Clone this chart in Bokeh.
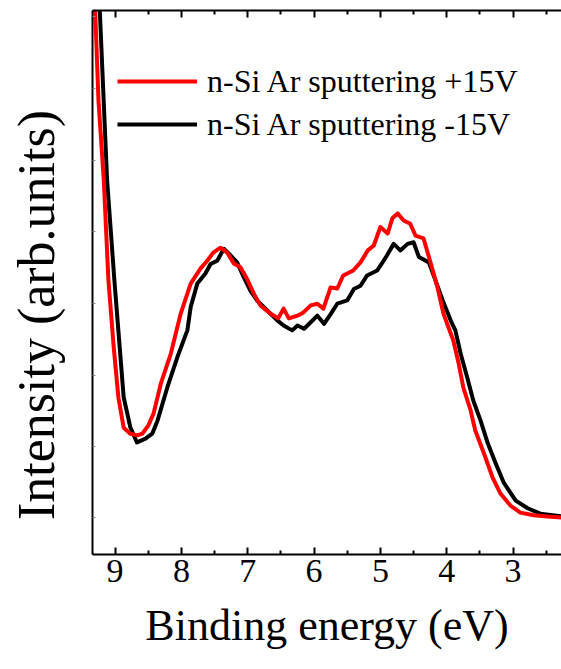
from bokeh.plotting import figure
from bokeh.models import (Range1d, LinearAxis, FixedTicker, Legend, LegendItem,
                          CustomJSTickFormatter)
from bokeh.embed import file_html
from bokeh.resources import INLINE

# ---- data ----
red_energy = [9.33, 9.30, 9.25, 9.17, 9.10, 9.02, 8.95, 8.87, 8.77, 8.66, 8.59, 8.50, 8.42, 8.31,
              8.16, 8.01, 7.86, 7.71, 7.61, 7.52, 7.41, 7.31, 7.21, 7.11, 7.00, 6.91, 6.81, 6.66,
              6.54, 6.46, 6.38, 6.25, 6.16, 6.05, 5.95, 5.86, 5.75, 5.65, 5.56, 5.41, 5.30, 5.19,
              5.10, 5.00, 4.89, 4.82, 4.74, 4.65, 4.55, 4.47, 4.35, 4.24, 4.14, 4.05, 3.90, 3.82,
              3.75, 3.64, 3.57, 3.44, 3.31, 3.19, 3.04, 2.89, 2.69, 2.48, 2.27]
red_intensity = [107.0, 100.0, 83.5, 68.8, 50.4, 38.1, 28.9, 23.3, 22.2, 21.9, 22.2, 23.7, 25.9, 31.4,
                 36.9, 44.3, 49.8, 52.6, 54.0, 55.5, 56.4, 55.5, 53.5, 52.8, 50.4, 48.0, 45.8, 44.3,
                 43.4, 45.2, 43.4, 43.9, 44.5, 45.8, 46.1, 45.2, 49.1, 48.9, 51.3, 52.2, 53.7, 55.9,
                 56.8, 60.2, 59.0, 61.8, 62.7, 61.4, 60.8, 58.6, 58.1, 53.5, 49.1, 44.3, 39.3, 35.1,
                 30.7, 26.5, 22.8, 18.6, 14.2, 11.2, 9.0, 7.7, 7.2, 7.0, 6.8]

black_energy = [9.26, 9.23, 9.12, 9.01, 8.93, 8.87, 8.77, 8.67, 8.54, 8.44, 8.36, 8.21, 8.06, 7.91,
                7.86, 7.76, 7.64, 7.56, 7.46, 7.36, 7.26, 7.16, 7.06, 6.96, 6.86, 6.71, 6.55, 6.46,
                6.33, 6.25, 6.15, 6.05, 5.95, 5.85, 5.75, 5.65, 5.50, 5.40, 5.30, 5.20, 5.05, 4.95,
                4.90, 4.80, 4.70, 4.59, 4.50, 4.42, 4.27, 4.17, 4.06, 3.94, 3.87, 3.79, 3.69, 3.60,
                3.49, 3.38, 3.26, 3.14, 2.96, 2.78, 2.59, 2.27]
black_intensity = [107.0, 100.0, 68.8, 50.4, 38.1, 28.9, 23.4, 20.6, 21.3, 22.2, 24.6, 30.8, 36.3, 41.2,
                   45.5, 49.8, 51.6, 53.4, 54.0, 56.2, 55.0, 53.7, 51.0, 48.5, 46.7, 44.9, 43.0, 42.1,
                   41.2, 42.1, 41.5, 42.7, 43.9, 42.4, 44.2, 46.1, 46.7, 48.8, 49.4, 51.3, 52.2, 54.0,
                   55.0, 57.1, 55.9, 57.1, 57.4, 54.7, 53.7, 50.4, 46.7, 43.0, 41.2, 36.9, 32.5, 28.3,
                   24.6, 20.4, 16.7, 13.2, 9.9, 8.5, 7.5, 7.0]

x_major = [9, 8, 7, 6, 5, 4, 3]
x_minor = [9.5, 8.5, 7.5, 6.5, 5.5, 4.5, 3.5, 2.5]
y_ticks = [6.8, 19.9, 32.9, 46.1, 59.4, 72.4, 85.7, 98.9]

labels = ["n-Si Ar sputtering +15V", "n-Si Ar sputtering -15V"]
x_title = "Binding energy (eV)"
y_title = "Intensity (arb.units)"

FONT = "Liberation Serif"

p = figure(width=561, height=669, output_backend="svg", toolbar_location=None,
           x_range=Range1d(9.34, 2.27), y_range=Range1d(0, 100),
           x_axis_location=None, y_axis_location=None,
           min_border_left=92, min_border_right=0, min_border_top=10, min_border_bottom=115)
p.outline_line_color = None
p.xgrid.visible = False
p.ygrid.visible = False
p.background_fill_color = "white"
p.border_fill_color = "white"

xt = FixedTicker(ticks=x_major, minor_ticks=x_minor)
blank = CustomJSTickFormatter(code="return ''")

bottom = LinearAxis(ticker=xt, axis_label=x_title)
bottom.axis_line_width = 2
bottom.major_tick_in = 7
bottom.major_tick_out = 0
bottom.minor_tick_in = 4
bottom.minor_tick_out = 0
bottom.major_tick_line_width = 2
bottom.minor_tick_line_width = 2
bottom.major_label_text_font = FONT
bottom.major_label_text_font_size = "34px"
bottom.major_label_text_color = "black"
bottom.major_label_standoff = 5
bottom.axis_label_text_font = FONT
bottom.axis_label_text_font_size = "44px"
bottom.axis_label_text_font_style = "normal"
bottom.axis_label_text_color = "black"
bottom.axis_label_standoff = 16
p.add_layout(bottom, "below")

top = LinearAxis(ticker=xt, formatter=blank)
top.axis_line_width = 2
top.major_tick_in = 7
top.major_tick_out = 0
top.minor_tick_in = 4
top.minor_tick_out = 0
top.major_tick_line_width = 2
top.minor_tick_line_width = 2
top.major_label_standoff = 0
p.add_layout(top, "above")

# trailing no-break spaces shift the visible title down, as in the reference
left = LinearAxis(ticker=FixedTicker(ticks=y_ticks, minor_ticks=[]), formatter=blank,
                  axis_label=y_title + "\u00a0" * 5)
left.axis_line_width = 2
left.major_tick_in = 3
left.major_tick_out = 0
left.major_tick_line_color = "#888888"
left.major_tick_line_width = 1
left.major_label_standoff = 0
left.axis_label_text_font = FONT
left.axis_label_text_font_size = "52px"
left.axis_label_text_font_style = "normal"
left.axis_label_text_color = "black"
left.axis_label_standoff = 28
p.add_layout(left, "left")

rb = p.line(black_energy, black_intensity, line_color="black", line_width=4, line_join="round")
rr = p.line(red_energy, red_intensity, line_color="#ff0000", line_width=4, line_join="round")

legend = Legend(items=[LegendItem(label=labels[0], renderers=[rr]),
                       LegendItem(label=labels[1], renderers=[rb])],
                location=(25, 410))
legend.border_line_color = None
legend.background_fill_alpha = 0
legend.padding = 0
legend.margin = 0
legend.spacing = 3
legend.glyph_width = 80
legend.glyph_height = 40
legend.label_height = 40
legend.label_standoff = 10
legend.label_text_font = FONT
legend.label_text_font_size = "32px"
legend.label_text_color = "black"
p.add_layout(legend)

open("out.html", "w").write(file_html(p, INLINE))
